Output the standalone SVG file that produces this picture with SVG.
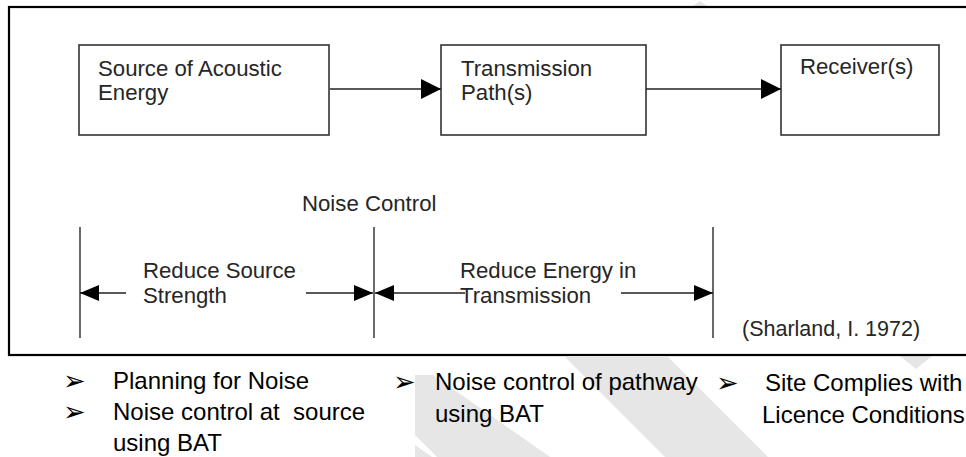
<svg xmlns="http://www.w3.org/2000/svg" width="966" height="457" viewBox="0 0 966 457">
<style>
.box{fill:#fff;stroke:#333;stroke-width:1.6}
.lbl{font-family:"Liberation Sans",Arial,sans-serif;font-size:22.2px;fill:#262626}
.bul{font-family:"Liberation Sans",Arial,sans-serif;font-size:24px;fill:#000}
.mk{font-family:"DejaVu Sans",sans-serif;font-size:27px;fill:#000}
.con{stroke:#222;stroke-width:1.6;fill:none}
.dim{stroke:#444;stroke-width:1.6;fill:none}
.wm{fill:#e6e6e6}
</style>
<defs>
<marker id="ah" markerUnits="userSpaceOnUse" viewBox="0 0 20 20" refX="20" refY="10" markerWidth="20" markerHeight="20" orient="auto">
<path d="M0,0 L20,10 L0,20 z" fill="#000"/>
</marker>
<marker id="as" markerUnits="userSpaceOnUse" viewBox="0 0 19 16" refX="19" refY="8" markerWidth="19" markerHeight="16" orient="auto">
<path d="M0,0 L19,8 L0,16 z" fill="#000"/>
</marker>
</defs>
<rect width="966" height="457" fill="#fff"/>
<g id="watermark">
<polygon class="wm" points="565,357 668,357 768,457 665,457"/>
<polygon class="wm" points="415,375 433,375 550,457 437,457 415,435"/>
<polygon class="wm" points="415,445 432,457 415,457"/>
<polygon class="wm" points="690,8 700,1 710,8"/>
<polygon class="wm" points="900,356 932,356 916,369"/>
</g>
<rect id="frame" x="9" y="7" width="970" height="348" fill="#fff" stroke="#000" stroke-width="2.2"/>
<g id="source">
<rect class="box" x="79" y="45" width="250" height="90"/>
<text class="lbl" x="98" y="76">Source of Acoustic</text>
<text class="lbl" x="98" y="100">Energy</text>
</g>
<g id="path">
<rect class="box" x="441" y="45" width="205" height="90"/>
<text class="lbl" x="461" y="76">Transmission</text>
<text class="lbl" x="461" y="100">Path(s)</text>
</g>
<g id="receiver">
<rect class="box" x="781" y="45" width="158" height="90"/>
<text class="lbl" x="800" y="74">Receiver(s)</text>
</g>
<g id="connectors">
<line class="con" x1="330" y1="89" x2="441" y2="89" marker-end="url(#ah)"/>
<line class="con" x1="646" y1="89" x2="781" y2="89" marker-end="url(#ah)"/>
</g>
<g id="noise-control">
<text class="lbl" x="302" y="211">Noise Control</text>
<line class="dim" x1="80" y1="227" x2="80" y2="338"/>
<line class="dim" x1="374" y1="227" x2="374" y2="338"/>
<line class="dim" x1="713" y1="227" x2="713" y2="338"/>
<line class="con" x1="126" y1="293" x2="80" y2="293" marker-end="url(#as)"/>
<line class="con" x1="306" y1="293" x2="373" y2="293" marker-end="url(#as)"/>
<line class="con" x1="465" y1="293" x2="375" y2="293" marker-end="url(#as)"/>
<line class="con" x1="621" y1="293" x2="713" y2="293" marker-end="url(#as)"/>
<text class="lbl" x="143" y="278">Reduce Source</text>
<text class="lbl" x="143" y="303">Strength</text>
<text class="lbl" x="460" y="278">Reduce Energy in</text>
<text class="lbl" x="460" y="303">Transmission</text>
<text class="lbl" x="742" y="336" style="font-size:21.5px">(Sharland, I. 1972)</text>
</g>
<g id="bullets">
<text class="mk" x="63" y="390">➢</text>
<text class="bul" x="113" y="389">Planning for Noise</text>
<text class="mk" x="63" y="421">➢</text>
<text class="bul" x="113" y="420" xml:space="preserve">Noise control at  source</text>
<text class="bul" x="113" y="451">using BAT</text>
<text class="mk" x="393" y="391">➢</text>
<text class="bul" x="435" y="390">Noise control of pathway</text>
<text class="bul" x="435" y="422">using BAT</text>
<text class="mk" x="716" y="392">➢</text>
<text class="bul" x="765" y="391">Site Complies with</text>
<text class="bul" x="762" y="423">Licence Conditions</text>
</g>
</svg>
